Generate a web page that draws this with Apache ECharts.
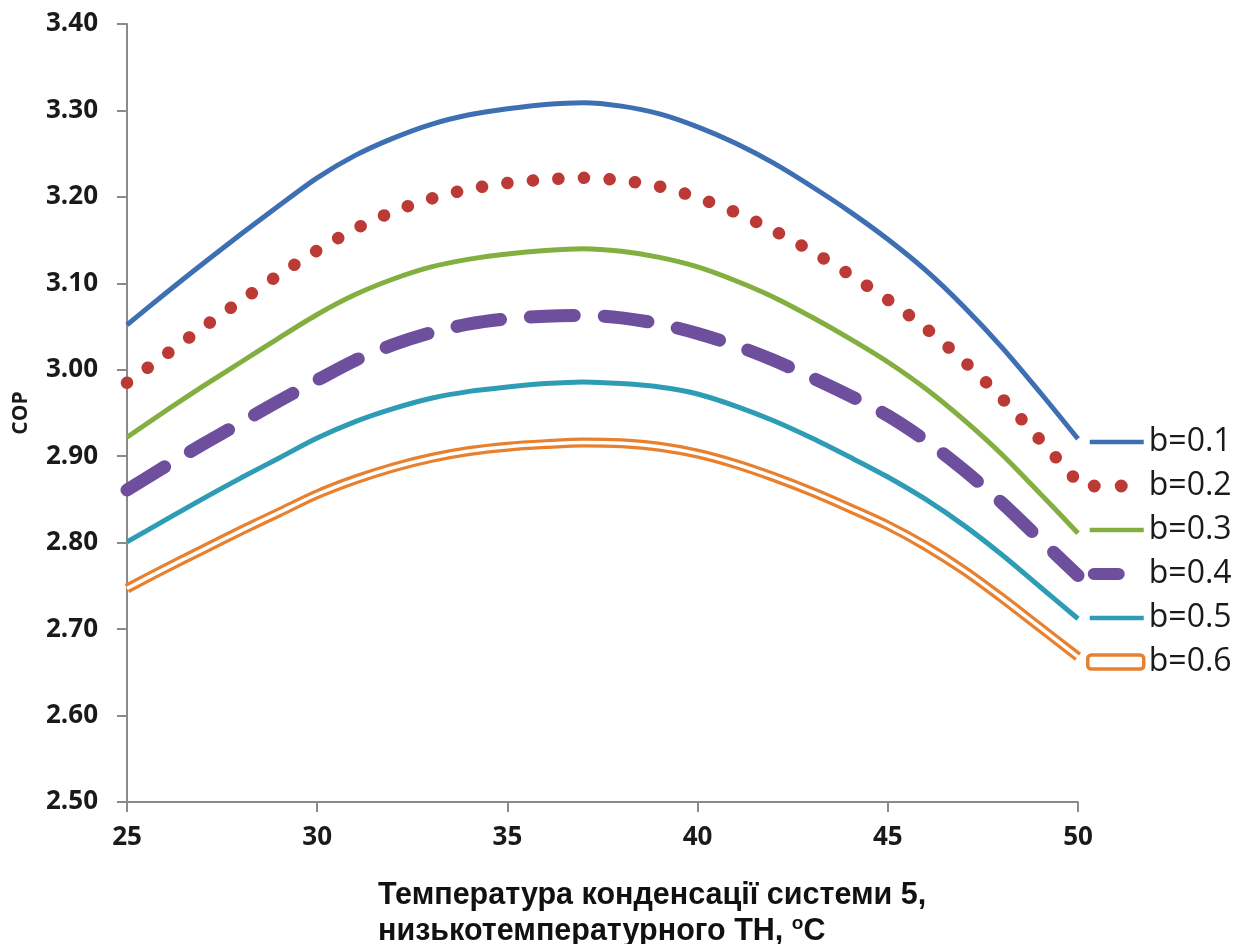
<!DOCTYPE html>
<html>
<head>
<meta charset="utf-8">
<script src="https://cdn.jsdelivr.net/npm/echarts@6/dist/echarts.min.js"></script>
<style>html,body{margin:0;padding:0;background:#fff}#c{width:1246px;height:944px}</style>
</head>
<body>
<div id="c"></div>
<script>
const temps = [25, 26, 27, 28, 29, 30, 31, 32, 33, 34, 35, 36, 37, 38, 39, 40, 41, 42, 43, 44, 45, 46, 47, 48, 49, 50];
const b01 = [3.052, 3.088, 3.123, 3.157, 3.190, 3.222, 3.248, 3.268, 3.284, 3.295, 3.302, 3.307, 3.309, 3.305, 3.296, 3.281, 3.262, 3.239, 3.212, 3.183, 3.151, 3.115, 3.073, 3.026, 2.974, 2.920];
const b02 = [2.985, 3.017, 3.049, 3.080, 3.110, 3.138, 3.163, 3.183, 3.198, 3.209, 3.216, 3.220, 3.222, 3.219, 3.212, 3.199, 3.182, 3.161, 3.137, 3.110, 3.081, 3.048, 3.010, 2.967, 2.919, 2.870];
const b03 = [2.922, 2.952, 2.981, 3.009, 3.037, 3.064, 3.087, 3.105, 3.119, 3.128, 3.134, 3.138, 3.140, 3.137, 3.130, 3.119, 3.103, 3.084, 3.061, 3.036, 3.009, 2.978, 2.942, 2.902, 2.857, 2.811];
const b04 = [2.861, 2.888, 2.914, 2.939, 2.964, 2.988, 3.011, 3.029, 3.043, 3.053, 3.059, 3.062, 3.063, 3.060, 3.053, 3.042, 3.028, 3.011, 2.991, 2.970, 2.947, 2.918, 2.884, 2.846, 2.804, 2.762];
const b05 = [2.801, 2.826, 2.851, 2.875, 2.898, 2.921, 2.940, 2.955, 2.967, 2.975, 2.980, 2.984, 2.986, 2.984, 2.980, 2.972, 2.958, 2.941, 2.921, 2.899, 2.876, 2.850, 2.820, 2.786, 2.749, 2.712];
const b06 = [2.747, 2.770, 2.792, 2.814, 2.835, 2.856, 2.873, 2.887, 2.898, 2.906, 2.911, 2.914, 2.916, 2.915, 2.911, 2.903, 2.891, 2.876, 2.859, 2.840, 2.820, 2.796, 2.768, 2.736, 2.702, 2.668];
const seriesNames = ['b=0.1', 'b=0.2', 'b=0.3', 'b=0.4', 'b=0.5', 'b=0.6'];
const yTicks = [2.5, 3.4, 0.1];
const xTicks = [25, 50, 5];
const xTitle1 = 'Температура конденсації системи 5,';
const xTitle2 = 'низькотемпературного ТН, ';
const yTitle = 'COP';

const colors = ['#3F6FB3', '#BC3A36', '#82AF40', '#6E4F9E', '#2F9CB6', '#E8812F'];
const box = 'M0,0L0.01,0M56,0L56.01,0M0,14L0.01,14M56,14L56.01,14';
const iconSolid = 'path://' + box + 'M2,4.7L56,4.7L56,9.3L2,9.3Z';
const iconDots = 'path://' + box + 'M0,7A6.5,6.5 0 1 0 13,7A6.5,6.5 0 1 0 0,7ZM27,7A6.5,6.5 0 1 0 40,7A6.5,6.5 0 1 0 27,7Z';
const iconDash = 'path://' + box + 'M6,1L31,1A6,6 0 0 1 31,13L6,13A6,6 0 0 1 6,1Z';

const pairs = arr => temps.map((t, i) => [t, arr[i]]);
const chart = echarts.init(document.getElementById('c'));
const base = { type: 'line', showSymbol: false, symbol: 'none', smooth: 0.3, animation: false };
chart.setOption({
  animation: false,
  grid: { left: 127, right: 168, top: 24, bottom: 142 },
  title: {
    left: 373, top: 873,
    text: xTitle1 + '\n' + xTitle2 + '{sup|o}C',
    textStyle: {
      fontFamily: 'Liberation Sans', fontWeight: 'bold', fontSize: 30.5, color: '#111', lineHeight: 36,
      rich: { sup: { fontFamily: 'Liberation Sans', fontWeight: 'bold', fontSize: 19, color: '#111', verticalAlign: 'top', lineHeight: 36, padding: [0, 0, 14, 0] } }
    }
  },
  legend: {
    orient: 'vertical', left: 1081, top: 419,
    itemWidth: 56, itemHeight: 14, itemGap: 8,
    textStyle: { fontFamily: 'Open Sans', fontSize: 32, color: '#1a1a1a', lineHeight: 36 },
    data: [
      { name: seriesNames[0], icon: iconSolid, itemStyle: { color: colors[0] } },
      { name: seriesNames[1], icon: iconDots, itemStyle: { color: colors[1] } },
      { name: seriesNames[2], icon: iconSolid, itemStyle: { color: colors[2] } },
      { name: seriesNames[3], icon: iconDash, itemStyle: { color: colors[3] } },
      { name: seriesNames[4], icon: iconSolid, itemStyle: { color: colors[4] } },
      { name: seriesNames[5], icon: 'roundRect', itemStyle: { color: '#fff', borderColor: colors[5], borderWidth: 3.5 } }
    ]
  },
  xAxis: {
    type: 'value', min: xTicks[0], max: xTicks[1], interval: xTicks[2],
    axisLine: { show: true, onZero: false, lineStyle: { color: '#8a8a8a', width: 2 } },
    axisTick: { show: true, length: 10, lineStyle: { color: '#8a8a8a', width: 2 } },
    splitLine: { show: false },
    axisLabel: { margin: 23, fontFamily: 'Open Sans', fontWeight: 'bold', fontSize: 26, color: '#1a1a1a' }
  },
  yAxis: {
    type: 'value', min: yTicks[0], max: yTicks[1], interval: yTicks[2],
    name: yTitle, nameLocation: 'middle', nameGap: 95, nameRotate: 90,
    nameTextStyle: { fontFamily: 'Open Sans', fontWeight: 'bold', fontSize: 21, color: '#1a1a1a' },
    axisLine: { show: true, lineStyle: { color: '#8a8a8a', width: 2 } },
    axisTick: { show: true, length: 10, lineStyle: { color: '#8a8a8a', width: 2 } },
    splitLine: { show: false },
    axisLabel: { margin: 29, fontFamily: 'Open Sans', fontWeight: 'bold', fontSize: 26, color: '#1a1a1a', formatter: v => v.toFixed(2) }
  },
  series: [
    Object.assign({}, base, { name: seriesNames[0], data: pairs(b01), color: colors[0], lineStyle: { color: colors[0], width: 5 } }),
    Object.assign({}, base, { name: seriesNames[1], data: pairs(b02), color: colors[1], lineStyle: { color: colors[1], width: 12.5, type: [0.1, 25.5], cap: 'round' } }),
    Object.assign({}, base, { name: seriesNames[2], data: pairs(b03), color: colors[2], lineStyle: { color: colors[2], width: 5 } }),
    Object.assign({}, base, { name: seriesNames[3], data: pairs(b04), color: colors[3], lineStyle: { color: colors[3], width: 13, type: [44, 30], cap: 'round' } }),
    Object.assign({}, base, { name: seriesNames[4], data: pairs(b05), color: colors[4], lineStyle: { color: colors[4], width: 5 } }),
    Object.assign({}, base, { name: seriesNames[5], data: pairs(b06), color: colors[5], lineStyle: { color: colors[5], width: 10 } }),
    Object.assign({}, base, { name: 'inner', data: pairs(b06), color: '#fff', silent: true, lineStyle: { color: '#ffffff', width: 3.5 }, z: 3 })
  ]
});
</script>
</body>
</html>
